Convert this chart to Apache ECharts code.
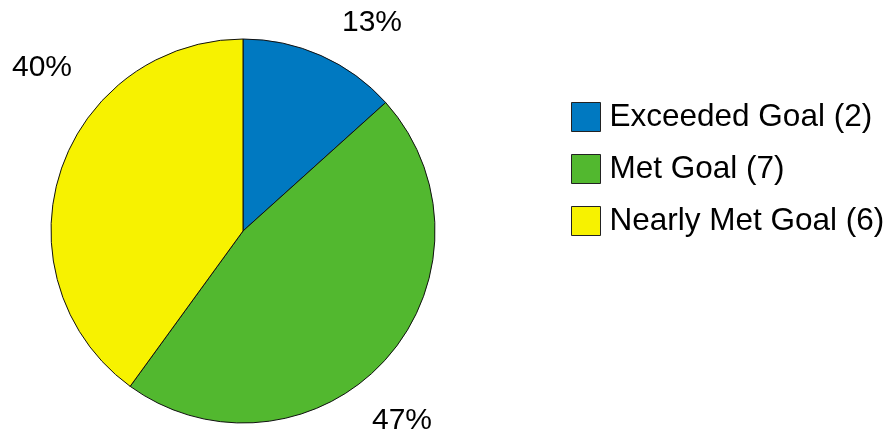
<!DOCTYPE html>
<html>
<head>
<meta charset="utf-8">
<script src="https://cdn.jsdelivr.net/npm/echarts@6/dist/echarts.min.js"></script>
<style>
  html, body { margin: 0; padding: 0; background: #fff; }
  #chart { width: 891px; height: 434px; }
</style>
</head>
<body>
<div id="chart"></div>
<script>
// Goal attainment breakdown
const categories = ['Exceeded Goal', 'Met Goal', 'Nearly Met Goal'];
const counts = [2, 7, 6];
const colors = ['#0079C1', '#52B82F', '#F7F200'];

// Percentage label anchors (centre of each label, in px)
const labelAnchors = [[372, 23], [402, 421], [42, 68]];

const total = counts.reduce((a, b) => a + b, 0);

const chart = echarts.init(document.getElementById('chart'));
chart.setOption({
  animation: false,
  backgroundColor: '#ffffff',
  legend: {
    orient: 'vertical',
    left: 566,
    top: 96,
    itemWidth: 29,
    itemHeight: 29,
    itemGap: 20,
    icon: 'rect',
    selectedMode: false,
    textStyle: {
      fontFamily: 'Liberation Sans, Arial, sans-serif',
      fontSize: 31.5,
      lineHeight: 29,
      color: '#000',
      padding: [0, 0, 0, 4]
    },
    formatter: function (name) {
      const i = categories.indexOf(name);
      return name + ' (' + counts[i] + ')';
    },
    itemStyle: { borderColor: '#222', borderWidth: 1 }
  },
  series: [{
    type: 'pie',
    center: [243, 231],
    radius: 192,
    startAngle: 90,
    clockwise: true,
    avoidLabelOverlap: false,
    itemStyle: { borderColor: '#111', borderWidth: 1 },
    label: {
      show: true,
      position: 'outside',
      overflow: 'none',
      fontFamily: 'Liberation Sans, Arial, sans-serif',
      fontSize: 30,
      color: '#000',
      formatter: function (p) { return Math.round(p.value / total * 100) + '%'; }
    },
    labelLine: { show: false },
    labelLayout: function (p) {
      const a = labelAnchors[p.dataIndex];
      return { x: a[0], y: a[1], align: 'center', verticalAlign: 'middle', hideOverlap: false };
    },
    emphasis: { disabled: true },
    data: categories.map((c, i) => ({ name: c, value: counts[i], itemStyle: { color: colors[i] } }))
  }]
});
</script>
</body>
</html>
